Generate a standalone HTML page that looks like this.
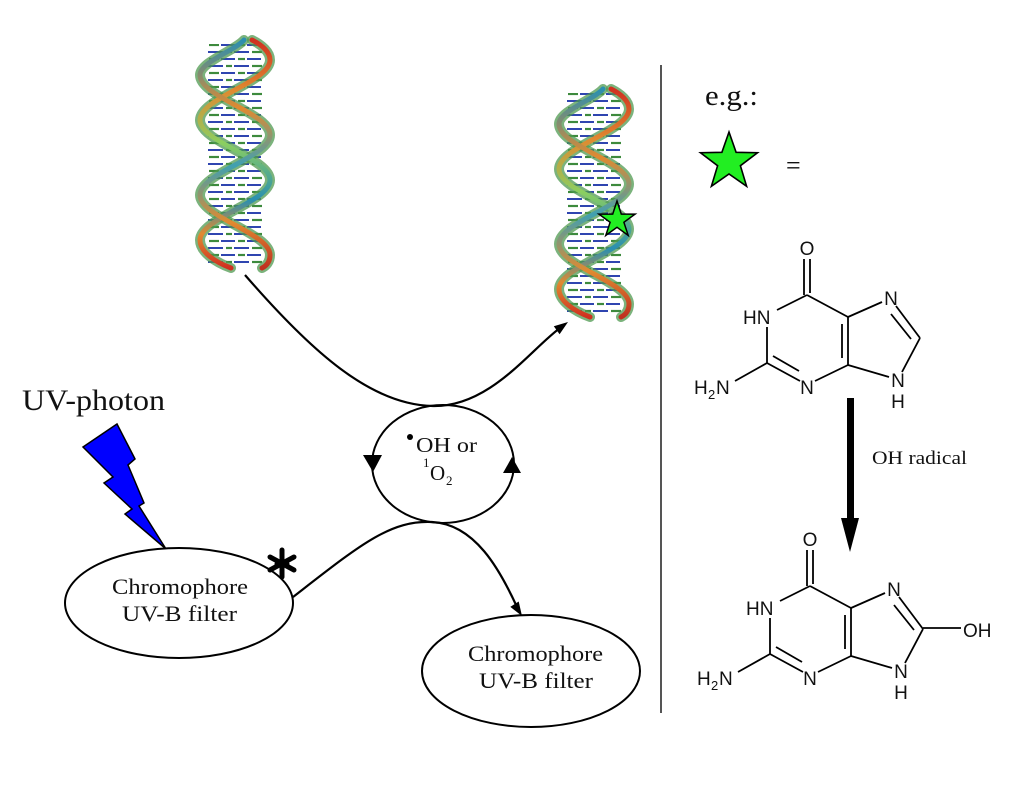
<!DOCTYPE html>
<html>
<head>
<meta charset="utf-8">
<style>
  html, body { margin: 0; padding: 0; background: #fff; }
  body { width: 1024px; height: 811px; overflow: hidden; }
  svg { display: block; }
  .serif { font-family: "Liberation Serif", "Times New Roman", serif; fill: #111; }
  .sans { font-family: "Liberation Sans", Arial, sans-serif; fill: #111; }
</style>
</head>
<body>
<svg width="1024" height="811" viewBox="0 0 1024 811" xmlns="http://www.w3.org/2000/svg">
  <defs>
    <linearGradient id="s1" x1="0" y1="0" x2="0" y2="1">
      <stop offset="0" stop-color="#d03020"/>
      <stop offset="0.22" stop-color="#e08a30"/>
      <stop offset="0.45" stop-color="#8ccf60"/>
      <stop offset="0.7" stop-color="#2a8fb0"/>
      <stop offset="0.85" stop-color="#e08a30"/>
      <stop offset="1" stop-color="#d03020"/>
    </linearGradient>
    <linearGradient id="s2" x1="0" y1="0" x2="0" y2="1">
      <stop offset="0" stop-color="#2a8fb0"/>
      <stop offset="0.3" stop-color="#e08a30"/>
      <stop offset="0.55" stop-color="#40a0b0"/>
      <stop offset="0.8" stop-color="#e08a30"/>
      <stop offset="1" stop-color="#c03020"/>
    </linearGradient>
    <pattern id="rungs" x="205" y="0" width="60" height="14" patternUnits="userSpaceOnUse">
      <line x1="4" y1="3" x2="14" y2="3" stroke="#3d8a3d" stroke-width="2.2"/>
      <line x1="16" y1="3" x2="30" y2="3" stroke="#2f45b0" stroke-width="2"/>
      <line x1="33" y1="3" x2="40" y2="3" stroke="#3d8a3d" stroke-width="2.2"/>
      <line x1="42" y1="3" x2="56" y2="3" stroke="#2f45b0" stroke-width="2"/>
      <line x1="3" y1="10" x2="18" y2="10" stroke="#2f45b0" stroke-width="2"/>
      <line x1="21" y1="10" x2="27" y2="10" stroke="#3d8a3d" stroke-width="2.2"/>
      <line x1="29" y1="10" x2="44" y2="10" stroke="#2f45b0" stroke-width="2"/>
      <line x1="47" y1="10" x2="57" y2="10" stroke="#3d8a3d" stroke-width="2.2"/>
    </pattern>
    <g id="dna">
      <rect x="205" y="44" width="60" height="222" fill="url(#rungs)"/>
      <g fill="none" stroke-linecap="round">
        <path d="M252,40 C262,45 270,52 270,60 C270,82 200,98 200,120 C200,142 270,158 270,180 C270,202 200,218 200,240 C200,252 215,262 231,268" stroke="#4f9a50" stroke-width="10" opacity="0.75"/>
        <path d="M244,40 C236,50 200,62 200,75 C200,97 270,113 270,135 C270,157 200,173 200,195 C200,217 270,233 270,255 C270,262 266,266 262,268" stroke="#4f9a50" stroke-width="10" opacity="0.75"/>
        <path d="M252,40 C262,45 270,52 270,60 C270,82 200,98 200,120 C200,142 270,158 270,180 C270,202 200,218 200,240 C200,252 215,262 231,268" stroke="url(#s1)" stroke-width="5"/>
        <path d="M244,40 C236,50 200,62 200,75 C200,97 270,113 270,135 C270,157 200,173 200,195 C200,217 270,233 270,255 C270,262 266,266 262,268" stroke="url(#s2)" stroke-width="5"/>
      </g>
    </g>
  </defs>

  <!-- DNA helices -->
  <use href="#dna"/>
  <use href="#dna" transform="translate(359,49)"/>

  <!-- star on DNA -->
  <polygon points="617,201 621.3,214.1 635.1,214.1 623.9,222.3 628.2,235.4 617,227.3 605.8,235.4 610.1,222.3 598.9,214.1 612.7,214.1" fill="#22ee22" stroke="#000" stroke-width="1.5" stroke-linejoin="miter"/>

  <!-- divider -->
  <line x1="661" y1="65" x2="661" y2="713" stroke="#555" stroke-width="2"/>

  <!-- top connector -->
  <path d="M245,275 C310,350 370,405 433,406 C490,407 530,350 560,328" fill="none" stroke="#000" stroke-width="2.2"/>
  <polygon points="568,322 559.6,334.3 553.8,326.2" fill="#000"/>

  <!-- circle -->
  <ellipse cx="443" cy="464" rx="71" ry="59" fill="none" stroke="#000" stroke-width="2"/>
  <polygon points="363,455 382,455 373,472" fill="#000"/>
  <polygon points="503,473 521,473 512,457" fill="#000"/>
  <circle cx="410" cy="437" r="3" fill="#000"/>
  <text class="serif" x="416" y="452" font-size="21" textLength="61" lengthAdjust="spacingAndGlyphs">OH or</text>
  <text class="serif" x="423" y="467" font-size="13">1</text>
  <text class="serif" x="430" y="480" font-size="21">O</text>
  <text class="serif" x="446" y="485" font-size="13">2</text>

  <!-- bottom connector -->
  <path d="M293,597 C360,545 390,520 432,522 C475,524 500,570 517,607" fill="none" stroke="#000" stroke-width="2.2"/>
  <polygon points="522,616 518.7,601.5 510.3,606.9" fill="#000"/>

  <!-- UV photon -->
  <text class="serif" x="22" y="410" font-size="30" textLength="143" lengthAdjust="spacingAndGlyphs">UV-photon</text>
  <polygon points="83,447 117,424 135,459 128,465 144,503 139,506 166,549 125,514 132,509 104,483 113,477" fill="#0000ff" stroke="#000" stroke-width="1.5" stroke-linejoin="miter"/>

  <!-- left ellipse -->
  <ellipse cx="179" cy="603" rx="114" ry="55" fill="#fff" stroke="#000" stroke-width="2"/>
  <text class="serif" x="112" y="594" font-size="22" textLength="136" lengthAdjust="spacingAndGlyphs">Chromophore</text>
  <text class="serif" x="122" y="621" font-size="22" textLength="115" lengthAdjust="spacingAndGlyphs">UV-B filter</text>

  <!-- asterisk -->
  <g stroke="#000" stroke-width="5" stroke-linecap="round">
    <line x1="282" y1="550" x2="282" y2="577"/>
    <line x1="270" y1="557" x2="294" y2="570"/>
    <line x1="270" y1="570" x2="294" y2="557"/>
    <line x1="277" y1="564" x2="287" y2="564"/>
  </g>

  <!-- right ellipse -->
  <ellipse cx="531" cy="671" rx="109" ry="56" fill="#fff" stroke="#000" stroke-width="2"/>
  <text class="serif" x="468" y="661" font-size="22" textLength="135" lengthAdjust="spacingAndGlyphs">Chromophore</text>
  <text class="serif" x="479" y="688" font-size="22" textLength="114" lengthAdjust="spacingAndGlyphs">UV-B filter</text>

  <!-- legend -->
  <text class="serif" x="705" y="105" font-size="28" textLength="53" lengthAdjust="spacingAndGlyphs">e.g.:</text>
  <polygon points="729,132 736.1,152.3 757.5,152.7 740.4,165.7 746.6,186.3 729,174 711.4,186.3 717.6,165.7 700.5,152.7 721.9,152.3" fill="#22ee22" stroke="#000" stroke-width="1.6"/>
  <text class="serif" x="786" y="174" font-size="26">=</text>

  <!-- guanine (top) -->
  <g>
    <g stroke="#000" stroke-width="1.8" fill="none">
      <line x1="804" y1="259" x2="804" y2="295"/>
      <line x1="810" y1="259" x2="810" y2="293"/>
      <line x1="807" y1="295" x2="777" y2="310"/>
      <line x1="767" y1="327" x2="767" y2="363"/>
      <line x1="767" y1="363" x2="800" y2="381"/>
      <line x1="773" y1="356" x2="799" y2="371"/>
      <line x1="815" y1="381" x2="848" y2="365"/>
      <line x1="848" y1="365" x2="848" y2="317"/>
      <line x1="842" y1="358" x2="842" y2="324"/>
      <line x1="848" y1="317" x2="807" y2="295"/>
      <line x1="848" y1="317" x2="882" y2="302"/>
      <line x1="896" y1="306" x2="920" y2="338"/>
      <line x1="891" y1="314" x2="911" y2="339"/>
      <line x1="920" y1="338" x2="902" y2="372"/>
      <line x1="889" y1="377" x2="848" y2="365"/>
      <line x1="767" y1="363" x2="735" y2="381"/>
    </g>
    <g class="sans" font-size="19">
      <text x="807" y="255" text-anchor="middle">O</text>
      <text x="743" y="324">HN</text>
      <text x="807" y="394" text-anchor="middle">N</text>
      <text x="891" y="305" text-anchor="middle">N</text>
      <text x="898" y="387" text-anchor="middle">N</text>
      <text x="898" y="408" text-anchor="middle">H</text>
      <text x="694" y="394">H</text>
      <text x="708" y="399" font-size="13">2</text>
      <text x="716" y="394">N</text>
    </g>
  </g>

  <!-- reaction arrow -->
  <rect x="847" y="398" width="7" height="122" fill="#000"/>
  <polygon points="841,518 859,518 850,552" fill="#000"/>
  <text class="serif" x="872" y="464" font-size="19" textLength="95" lengthAdjust="spacingAndGlyphs">OH radical</text>

  <!-- 8-oxoguanine (bottom) -->
  <g transform="translate(3,291)">
    <g stroke="#000" stroke-width="1.8" fill="none">
      <line x1="804" y1="259" x2="804" y2="295"/>
      <line x1="810" y1="259" x2="810" y2="293"/>
      <line x1="807" y1="295" x2="777" y2="310"/>
      <line x1="767" y1="327" x2="767" y2="363"/>
      <line x1="767" y1="363" x2="800" y2="381"/>
      <line x1="773" y1="356" x2="799" y2="371"/>
      <line x1="815" y1="381" x2="848" y2="365"/>
      <line x1="848" y1="365" x2="848" y2="317"/>
      <line x1="842" y1="358" x2="842" y2="324"/>
      <line x1="848" y1="317" x2="807" y2="295"/>
      <line x1="848" y1="317" x2="882" y2="302"/>
      <line x1="896" y1="306" x2="920" y2="338"/>
      <line x1="891" y1="314" x2="911" y2="339"/>
      <line x1="920" y1="338" x2="902" y2="372"/>
      <line x1="889" y1="377" x2="848" y2="365"/>
      <line x1="767" y1="363" x2="735" y2="381"/>
      <line x1="920" y1="337" x2="958" y2="337"/>
    </g>
    <g class="sans" font-size="19">
      <text x="807" y="255" text-anchor="middle">O</text>
      <text x="743" y="324">HN</text>
      <text x="807" y="394" text-anchor="middle">N</text>
      <text x="891" y="305" text-anchor="middle">N</text>
      <text x="898" y="387" text-anchor="middle">N</text>
      <text x="898" y="408" text-anchor="middle">H</text>
      <text x="694" y="394">H</text>
      <text x="708" y="399" font-size="13">2</text>
      <text x="716" y="394">N</text>
      <text x="960" y="346">OH</text>
    </g>
  </g>
</svg>
</body>
</html>
